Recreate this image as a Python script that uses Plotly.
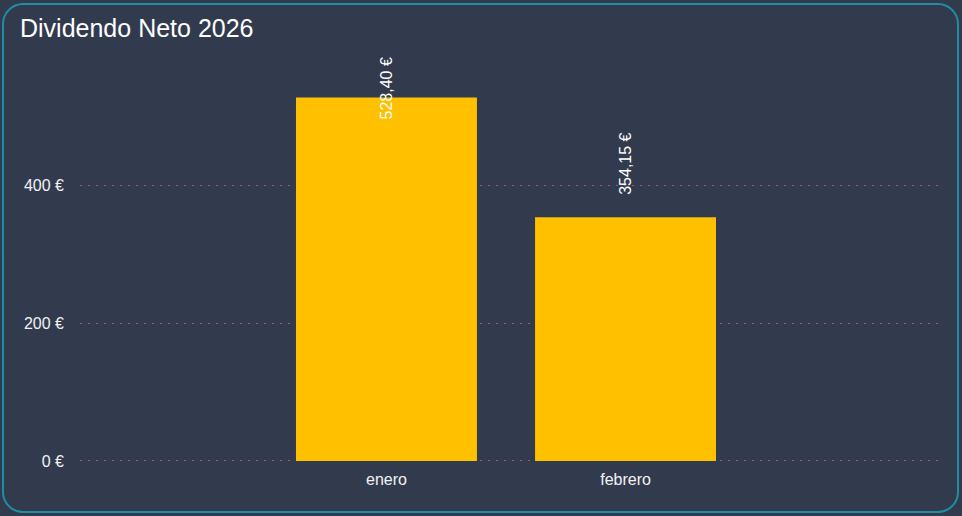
import plotly.graph_objects as go

# ---- data ----
months = ["enero", "febrero"]
dividends = [528.40, 354.15]
tick_vals = [0, 200, 400]
tick_text = ["0 €", "200 €", "400 €"]
title_text = "Dividendo Neto 2026"

def eur(v):
    s = f"{v:,.2f}".replace(",", "X").replace(".", ",").replace("X", ".")
    return s + " €"

labels = [eur(v) for v in dividends]

# ---- layout geometry (pixels) ----
W, H = 962, 516
ML, MR, MT, MB = 80, 19, 55, 54
PW, PH = W - ML - MR, H - MT - MB
YMAX = 590
YMIN = -1.5

BG = "#323b4e"
FONT = "Liberation Sans, Arial, sans-serif"

fig = go.Figure()
fig.add_trace(go.Bar(
    x=months, y=dividends,
    marker=dict(color="#FFC000", line=dict(width=0)),
    width=0.757,
    hoverinfo="x+y",
))

# value labels, rotated, above bar, clamped to plot top
annotations = []
label_h_px = 68
offset_px = 20
for m, v, t in zip(months, dividends, labels):
    top_px = ((v - YMIN) / (YMAX - YMIN)) * PH + offset_px + label_h_px
    if top_px > PH:
        annotations.append(dict(x=m, xref="x", y=1, yref="paper", yanchor="top",
                                text=t, textangle=-90, showarrow=False,
                                font=dict(color="white", size=16, family=FONT)))
    else:
        annotations.append(dict(x=m, xref="x", y=v, yref="y", yanchor="bottom",
                                yshift=offset_px, text=t, textangle=-90, showarrow=False,
                                font=dict(color="white", size=16, family=FONT)))

annotations.append(dict(x=(18 - ML) / PW, xref="paper", xanchor="left",
                        y=(H - MB - 28) / PH, yref="paper", yanchor="middle",
                        text=title_text, showarrow=False,
                        font=dict(color="white", size=25, family=FONT)))

# rounded border
def px_x(p):
    return (p - ML) / PW
def px_y(p):
    return (H - MB - p) / PH

x0, x1, y0, y1, r = 3, 958, 4, 512, 20
k = 0.5523 * r
path = (
    f"M {px_x(x0 + r)} {px_y(y0)} "
    f"L {px_x(x1 - r)} {px_y(y0)} "
    f"C {px_x(x1 - r + k)} {px_y(y0)} {px_x(x1)} {px_y(y0 + r - k)} {px_x(x1)} {px_y(y0 + r)} "
    f"L {px_x(x1)} {px_y(y1 - r)} "
    f"C {px_x(x1)} {px_y(y1 - r + k)} {px_x(x1 - r + k)} {px_y(y1)} {px_x(x1 - r)} {px_y(y1)} "
    f"L {px_x(x0 + r)} {px_y(y1)} "
    f"C {px_x(x0 + r - k)} {px_y(y1)} {px_x(x0)} {px_y(y1 - r + k)} {px_x(x0)} {px_y(y1 - r)} "
    f"L {px_x(x0)} {px_y(y0 + r)} "
    f"C {px_x(x0)} {px_y(y0 + r - k)} {px_x(x0 + r - k)} {px_y(y0)} {px_x(x0 + r)} {px_y(y0)} Z"
)

fig.update_layout(
    width=W, height=H,
    margin=dict(l=ML, r=MR, t=MT, b=MB),
    paper_bgcolor=BG, plot_bgcolor=BG,
    showlegend=False,
    annotations=annotations,
    shapes=[dict(type="path", path=path, xref="paper", yref="paper",
                 line=dict(color="#1f8ea3", width=2), layer="above")],
    font=dict(family=FONT, color="white", size=16),
    xaxis=dict(type="category", range=[-1.282, 2.328], showgrid=False,
               zeroline=False, showline=False, ticks="",
               ticklabelstandoff=6,
               tickfont=dict(size=16, color="#f2f2f2")),
    yaxis=dict(range=[YMIN, YMAX], tickvals=tick_vals, ticktext=tick_text,
               showgrid=True, gridcolor="rgba(190,100,115,0.75)", griddash="2px,6px",
               gridwidth=1, zeroline=False, showline=False, ticks="",
               ticklabelstandoff=15, tickfont=dict(size=16, color="#f2f2f2")),
)

fig.write_html("out.html", config={"displayModeBar": False},
               post_script="document.body.style.margin='0';document.body.style.background='#323b4e';")
